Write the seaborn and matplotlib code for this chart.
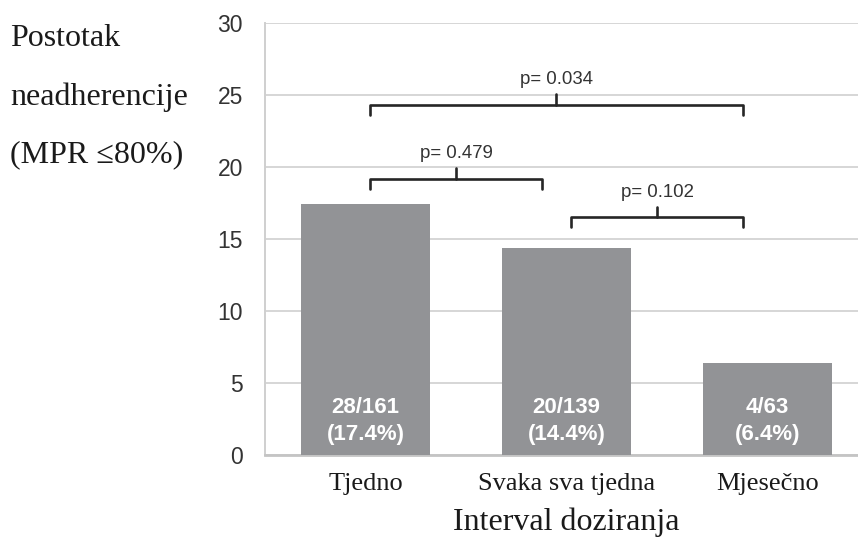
import matplotlib
matplotlib.use("Agg")
import matplotlib.pyplot as plt
import seaborn as sns
import pandas as pd

# data
intervals = ["Tjedno", "Svaka sva tjedna", "Mjesečno"]
nonadherent = [28, 20, 4]
totals = [161, 139, 63]
percent = [17.4, 14.4, 6.4]

# pairwise comparisons: (left bar, right bar, p-value)
comparisons = [(0, 2, "0.034"), (0, 1, "0.479"), (1, 2, "0.102")]
bracket_y = [24.3, 19.2, 16.5]

df = pd.DataFrame({"interval": intervals, "percent": percent})

sns.set_style("white")
serif = ["Liberation Serif", "DejaVu Serif"]
sans = ["Liberation Sans", "DejaVu Sans"]

fig = plt.figure(figsize=(8.58, 5.43), dpi=100)
ax = fig.add_axes([265 / 858, 88 / 543, 603 / 858, 432 / 543])

sns.barplot(data=df, x="interval", y="percent", color="#929396",
            saturation=1, width=0.64, edgecolor="none", linewidth=0,
            ax=ax, zorder=3)

ax.set_ylim(0, 30)
ax.set_xlim(-0.5, 2.5)
ax.set_yticks(range(0, 31, 5))
ax.yaxis.grid(True, color="#d6d6d6", lw=1.4, zorder=0)
ax.set_axisbelow(True)
for s in ["top", "right"]:
    ax.spines[s].set_visible(False)
ax.spines["left"].set_color("#cfcfcf")
ax.spines["left"].set_linewidth(1.4)
ax.spines["bottom"].set_color("#c4c4c4")
ax.spines["bottom"].set_linewidth(2)

ax.tick_params(axis="y", length=0, pad=16, labelsize=16.5, labelcolor="#333333")
ax.tick_params(axis="x", length=0, pad=13, labelsize=19, labelcolor="#1a1a1a")
for lab in ax.get_yticklabels():
    lab.set_family(sans)
for lab in ax.get_xticklabels():
    lab.set_family(serif)

ax.set_ylabel("")
ax.set_xlabel("Interval doziranja", fontsize=23, family=serif, color="#1a1a1a", labelpad=9)

# labels inside the bars
for i in range(len(intervals)):
    txt = f"{nonadherent[i]}/{totals[i]}\n({percent[i]}%)"
    ax.text(i, 2.35, txt, ha="center", va="center", color="white",
            fontsize=16, fontweight="bold", family=sans, linespacing=1.35, zorder=4)

# significance brackets
for (a, b, p), y in zip(comparisons, bracket_y):
    x0 = a + 0.02
    x1 = b - 0.12
    xm = (x0 + x1) / 2
    ax.plot([x0, x0, x1, x1], [y - 0.7, y, y, y - 0.7], color="#262626",
            lw=1.9, solid_joinstyle="round", solid_capstyle="round", zorder=5)
    ax.plot([xm, xm], [y, y + 0.75], color="#262626", lw=1.9,
            solid_capstyle="round", zorder=5)
    ax.text(xm, y + 1.75, f"p= {p}", ha="center", va="center",
            fontsize=13.4, family=sans, color="#333333", zorder=5)

# y axis title, horizontal at top-left
ylabel_lines = ["Postotak", "neadherencije", "(MPR \u226480%)"]
for line, ypx in zip(ylabel_lines, [38, 97, 155]):
    fig.text(10 / 858, 1 - ypx / 543, line, ha="left", va="center",
             fontsize=23, family=serif, color="#1a1a1a")

fig.savefig("out.png", dpi=100)
